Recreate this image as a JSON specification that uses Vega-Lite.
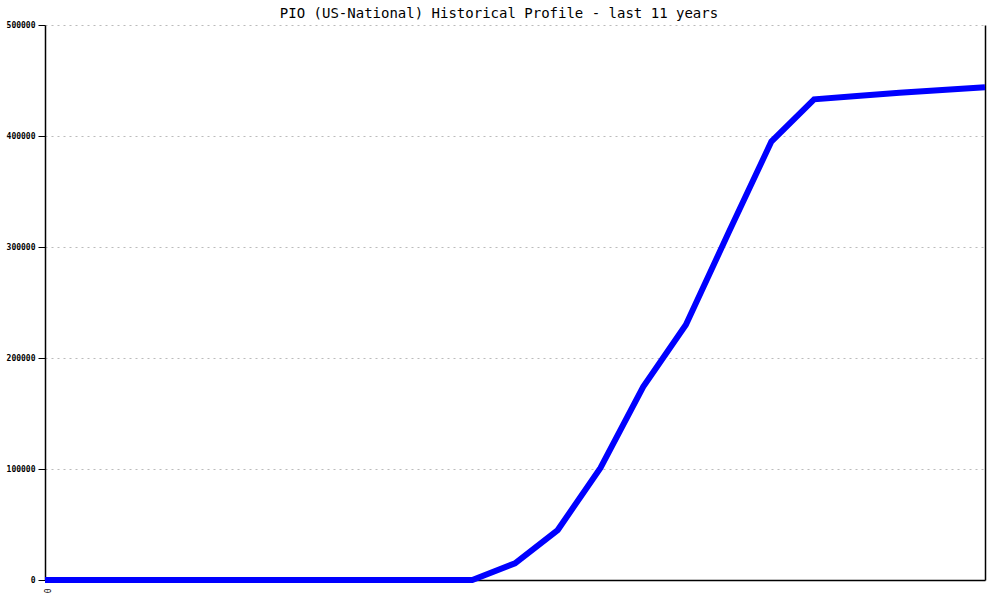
{
  "$schema": "https://vega.github.io/schema/vega-lite/v6.json",
  "autosize": "none",
  "width": 940,
  "height": 555,
  "padding": {"left": 45, "top": 25, "right": 15, "bottom": 20},
  "background": "white",
  "config": {"view": {"stroke": null}},
  "title": {
    "text": "PIO (US-National) Historical Profile - last 11 years",
    "font": "DejaVu Sans Mono",
    "fontSize": 14,
    "fontWeight": "normal",
    "color": "black",
    "anchor": "middle",
    "dx": -16,
    "offset": 0
  },
  "data": {
    "values": [
      {"i": 0, "v": 0}, {"i": 1, "v": 0}, {"i": 2, "v": 0}, {"i": 3, "v": 0},
      {"i": 4, "v": 0}, {"i": 5, "v": 0}, {"i": 6, "v": 0}, {"i": 7, "v": 0},
      {"i": 8, "v": 0}, {"i": 9, "v": 0}, {"i": 10, "v": 0},
      {"i": 11, "v": 15000}, {"i": 12, "v": 45000}, {"i": 13, "v": 101000},
      {"i": 14, "v": 174000}, {"i": 15, "v": 230000}, {"i": 16, "v": 313000},
      {"i": 17, "v": 395000}, {"i": 18, "v": 433000}, {"i": 19, "v": 436000},
      {"i": 20, "v": 439000}, {"i": 21, "v": 441500}, {"i": 22, "v": 444000}
    ]
  },
  "layer": [
    {
      "mark": {"type": "line", "color": "#0000ff", "strokeWidth": 6},
      "encoding": {
        "x": {
          "field": "i", "type": "quantitative",
          "scale": {"domain": [0, 22], "nice": false},
          "axis": {
            "title": null, "values": [0], "grid": false, "ticks": false,
            "domainColor": "black", "domainWidth": 1.5,
            "labelAngle": 90, "labelPadding": 8,
            "labelFont": "DejaVu Sans Mono", "labelFontSize": 8, "labelColor": "black"
          }
        },
        "y": {
          "field": "v", "type": "quantitative",
          "scale": {"domain": [0, 500000], "nice": false},
          "axis": {
            "title": null, "values": [0, 100000, 200000, 300000, 400000, 500000],
            "format": "d",
            "grid": true, "gridColor": "#bbbbbb", "gridDash": [2, 4], "gridWidth": 1,
            "domainColor": "black", "domainWidth": 1.5,
            "tickColor": "black", "tickSize": 7,
            "labelPadding": 3,
            "labelFont": "DejaVu Sans Mono", "labelFontSize": 8, "labelFontWeight": "bold",
            "labelColor": "black"
          }
        }
      }
    },
    {
      "mark": {"type": "line", "opacity": 0},
      "encoding": {
        "x": {"field": "i", "type": "quantitative"},
        "y": {
          "field": "v", "type": "quantitative",
          "axis": {
            "orient": "right", "title": null, "labels": false, "ticks": false,
            "grid": false, "domainColor": "black", "domainWidth": 1.5
          }
        }
      }
    }
  ],
  "resolve": {"axis": {"y": "independent"}}
}
